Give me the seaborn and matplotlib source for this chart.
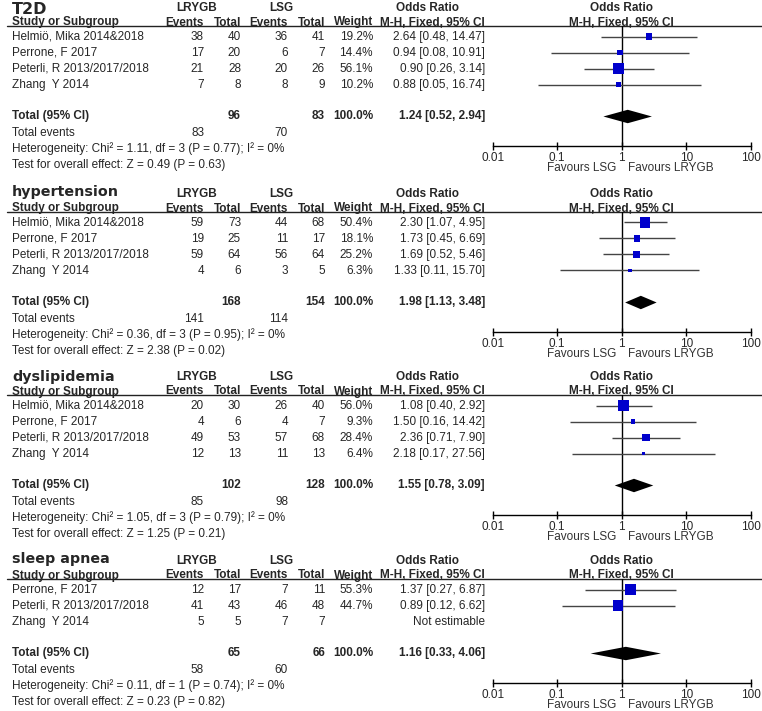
import numpy as np
import seaborn as sns
import matplotlib.pyplot as plt

# ---- data ----
outcomes = ['T2D', 'hypertension', 'dyslipidemia', 'sleep apnea']

studies_4 = ['Helmiö, Mika 2014&2018', 'Perrone, F 2017',
             'Peterli, R 2013/2017/2018', 'Zhang  Y 2014']
studies_3 = ['Perrone, F 2017', 'Peterli, R 2013/2017/2018', 'Zhang  Y 2014']

# T2D
t2d_ev1 = [38, 17, 21, 7]
t2d_tot1 = [40, 20, 28, 8]
t2d_ev2 = [36, 6, 20, 8]
t2d_tot2 = [41, 7, 26, 9]
t2d_w = [19.2, 14.4, 56.1, 10.2]
t2d_or = [2.64, 0.94, 0.90, 0.88]
t2d_lo = [0.48, 0.08, 0.26, 0.05]
t2d_hi = [14.47, 10.91, 3.14, 16.74]

# hypertension
htn_ev1 = [59, 19, 59, 4]
htn_tot1 = [73, 25, 64, 6]
htn_ev2 = [44, 11, 56, 3]
htn_tot2 = [68, 17, 64, 5]
htn_w = [50.4, 18.1, 25.2, 6.3]
htn_or = [2.30, 1.73, 1.69, 1.33]
htn_lo = [1.07, 0.45, 0.52, 0.11]
htn_hi = [4.95, 6.69, 5.46, 15.70]

# dyslipidemia
dys_ev1 = [20, 4, 49, 12]
dys_tot1 = [30, 6, 53, 13]
dys_ev2 = [26, 4, 57, 11]
dys_tot2 = [40, 7, 68, 13]
dys_w = [56.0, 9.3, 28.4, 6.4]
dys_or = [1.08, 1.50, 2.36, 2.18]
dys_lo = [0.40, 0.16, 0.71, 0.17]
dys_hi = [2.92, 14.42, 7.90, 27.56]

# sleep apnea (Zhang not estimable)
sa_ev1 = [12, 41, 5]
sa_tot1 = [17, 43, 5]
sa_ev2 = [7, 46, 7]
sa_tot2 = [11, 48, 7]
sa_w = [55.3, 44.7, None]
sa_or = [1.37, 0.89, None]
sa_lo = [0.27, 0.12, None]
sa_hi = [6.87, 6.62, None]

# pooled results per outcome
tot_n1 = [96, 168, 102, 65]
tot_n2 = [83, 154, 128, 66]
tot_ev1 = [83, 141, 85, 58]
tot_ev2 = [70, 114, 98, 60]
pool_or = [1.24, 1.98, 1.55, 1.16]
pool_lo = [0.52, 1.13, 0.78, 0.33]
pool_hi = [2.94, 3.48, 3.09, 4.06]
chi2 = [1.11, 0.36, 1.05, 0.11]
chi_df = [3, 3, 3, 1]
chi_p = [0.77, 0.95, 0.79, 0.74]
i2 = [0, 0, 0, 0]
z_val = [0.49, 2.38, 1.25, 0.23]
z_p = [0.63, 0.02, 0.21, 0.82]

xticks = [0.01, 0.1, 1, 10, 100]
xtick_labels = ['0.01', '0.1', '1', '10', '100']

panels = [
    dict(study=studies_4, ev1=t2d_ev1, tot1=t2d_tot1, ev2=t2d_ev2, tot2=t2d_tot2,
         w=t2d_w, orr=t2d_or, lo=t2d_lo, hi=t2d_hi),
    dict(study=studies_4, ev1=htn_ev1, tot1=htn_tot1, ev2=htn_ev2, tot2=htn_tot2,
         w=htn_w, orr=htn_or, lo=htn_lo, hi=htn_hi),
    dict(study=studies_4, ev1=dys_ev1, tot1=dys_tot1, ev2=dys_ev2, tot2=dys_tot2,
         w=dys_w, orr=dys_or, lo=dys_lo, hi=dys_hi),
    dict(study=studies_3, ev1=sa_ev1, tot1=sa_tot1, ev2=sa_ev2, tot2=sa_tot2,
         w=sa_w, orr=sa_or, lo=sa_lo, hi=sa_hi),
]

# ---- style ----
sns.set_style('white')
plt.rcParams['font.family'] = ['Liberation Sans', 'DejaVu Sans']
FS = 8.5
BLUE = '#0000CC'
GREY = '#444444'

W, H = 762, 711
fig = plt.figure(figsize=(W / 100, H / 100), dpi=100)
bg = fig.add_axes([0, 0, 1, 1])
bg.set_xlim(0, W)
bg.set_ylim(H, 0)
bg.axis('off')

# column anchors (pixels)
X_STUDY = 12
X_EV1, X_TOT1, X_EV2, X_TOT2, X_W, X_OR = 204, 241, 288, 325, 373, 485
X_LO, X_HI = 492.7, 750.7
X_ONE = (X_LO + X_HI) / 2

line_y = [26, 212, 395, 579]
title_y = [14.5, 196, 381, 563]
title_fs = [11.5, 10.3, 10.3, 10.3]
ROW0 = 10.5
STEP = 16


def txt(x, y, s, ha='left', bold=False, **kw):
    bg.text(x, y - 1.2, s, ha=ha, va='center_baseline', fontsize=FS,
            fontweight='bold' if bold else 'normal', **kw)


for k, d in enumerate(panels):
    y0 = line_y[k]
    n = len(d['study'])

    def py(r):
        return y0 + ROW0 + STEP * r

    # title and headers
    bg.text(X_STUDY, title_y[k], outcomes[k], fontsize=title_fs[k], fontweight='bold',
            family='DejaVu Sans', va='baseline')
    hy1, hy2 = y0 - 18.5, y0 - 3.8
    txt(197, hy1, 'LRYGB', ha='center', bold=True)
    txt(281, hy1, 'LSG', ha='center', bold=True)
    txt(428, hy1, 'Odds Ratio', ha='center', bold=True)
    txt(X_ONE, hy1, 'Odds Ratio', ha='center', bold=True)
    txt(X_STUDY, hy2, 'Study or Subgroup', bold=True)
    txt(X_EV1, hy2, 'Events', ha='right', bold=True)
    txt(X_TOT1, hy2, 'Total', ha='right', bold=True)
    txt(X_EV2, hy2, 'Events', ha='right', bold=True)
    txt(X_TOT2, hy2, 'Total', ha='right', bold=True)
    txt(X_W, hy2, 'Weight', ha='right', bold=True)
    txt(X_OR, hy2, 'M-H, Fixed, 95% CI', ha='right', bold=True)
    txt(X_ONE, hy2, 'M-H, Fixed, 95% CI', ha='center', bold=True)
    bg.plot([7, W], [y0, y0], color='#222222', lw=1)

    # study rows
    for i in range(n):
        y = py(i)
        txt(X_STUDY, y, d['study'][i])
        txt(X_EV1, y, str(d['ev1'][i]), ha='right')
        txt(X_TOT1, y, str(d['tot1'][i]), ha='right')
        txt(X_EV2, y, str(d['ev2'][i]), ha='right')
        txt(X_TOT2, y, str(d['tot2'][i]), ha='right')
        if d['orr'][i] is None:
            txt(X_OR, y, 'Not estimable', ha='right')
        else:
            txt(X_W, y, f"{d['w'][i]:.1f}%", ha='right')
            txt(X_OR, y, f"{d['orr'][i]:.2f} [{d['lo'][i]:.2f}, {d['hi'][i]:.2f}]", ha='right')

    # totals
    yt = py(n + 1) - 1
    txt(X_STUDY, yt, 'Total (95% CI)', bold=True)
    txt(X_TOT1, yt, str(tot_n1[k]), ha='right', bold=True)
    txt(X_TOT2, yt, str(tot_n2[k]), ha='right', bold=True)
    txt(X_W, yt, '100.0%', ha='right', bold=True)
    txt(X_OR, yt, f"{pool_or[k]:.2f} [{pool_lo[k]:.2f}, {pool_hi[k]:.2f}]", ha='right', bold=True)
    txt(X_STUDY, py(n + 2), 'Total events')
    txt(X_EV1, py(n + 2), str(tot_ev1[k]), ha='right')
    txt(X_EV2, py(n + 2), str(tot_ev2[k]), ha='right')
    txt(X_STUDY, py(n + 3),
        f"Heterogeneity: Chi² = {chi2[k]:.2f}, df = {chi_df[k]} (P = {chi_p[k]:.2f}); I² = {i2[k]}%")
    txt(X_STUDY, py(n + 4), f"Test for overall effect: Z = {z_val[k]:.2f} (P = {z_p[k]:.2f})")

    # forest axes
    bottom = n + 1 + 29 / STEP
    top = -ROW0 / STEP
    y_ax = py(bottom)
    ax = fig.add_axes([X_LO / W, 1 - y_ax / H, (X_HI - X_LO) / W, (y_ax - y0) / H])
    ax.patch.set_alpha(0)
    ax.set_xscale('log')

    ok = [i for i in range(n) if d['orr'][i] is not None]
    rows = np.array(ok, dtype=float)
    orr = np.array([d['orr'][i] for i in ok])
    lo = np.array([d['lo'][i] for i in ok])
    hi = np.array([d['hi'][i] for i in ok])
    w = np.array([d['w'][i] for i in ok])

    ax.hlines(rows, lo, hi, color=GREY, lw=1, zorder=2)
    side_pt = 1.5 * np.sqrt(w) * 0.72
    sns.scatterplot(x=orr, y=rows, marker='s', s=side_pt ** 2, color=BLUE,
                    linewidth=0, ax=ax, legend=False, zorder=3)
    r = n + 1
    h = 0.42
    ax.fill([pool_lo[k], pool_or[k], pool_hi[k], pool_or[k]],
            [r, r - h, r, r + h], color='black', lw=0, zorder=3)
    ax.axvline(1, color='black', lw=1, zorder=1)

    ax.set_xlim(0.01, 100)
    ax.set_ylim(bottom, top)
    ax.set_xticks(xticks)
    ax.set_xticklabels(xtick_labels, fontsize=FS)
    ax.minorticks_off()
    ax.set_yticks([])
    ax.set_xlabel('')
    ax.set_ylabel('')
    for s in ['top', 'left', 'right']:
        ax.spines[s].set_visible(False)
    ax.spines['bottom'].set_color('black')
    ax.spines['bottom'].set_linewidth(1)
    ax.tick_params(axis='x', direction='inout', length=6, width=1, pad=1.5,
                   color='black', bottom=True)

    txt(X_ONE - 5, y_ax + 22.5, 'Favours LSG', ha='right', color='#333333')
    txt(X_ONE + 6, y_ax + 22.5, 'Favours LRYGB', ha='left', color='#333333')

fig.savefig('out.png', dpi=100)
